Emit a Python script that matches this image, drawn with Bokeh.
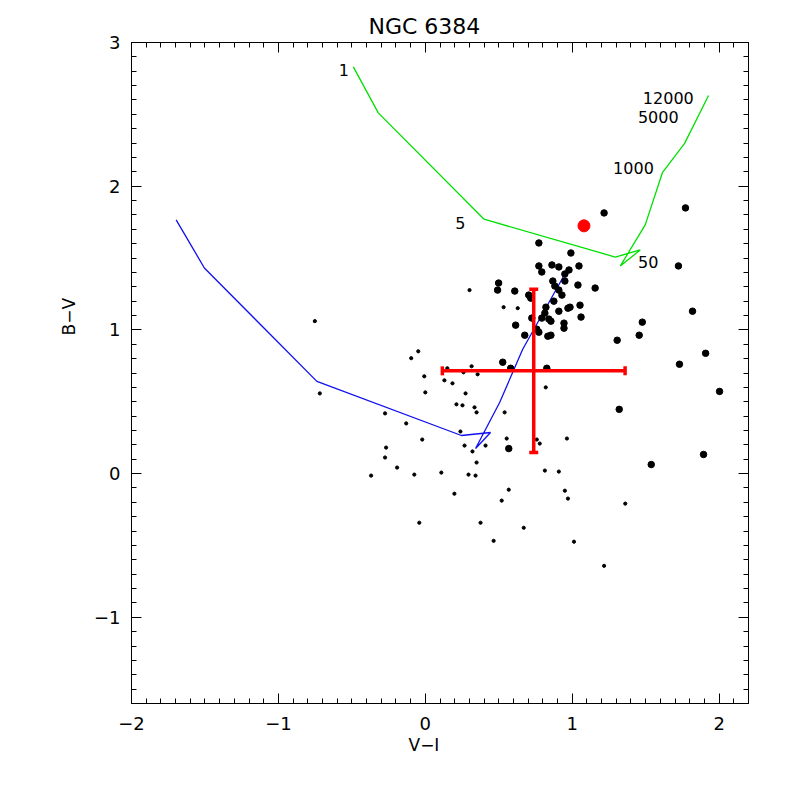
import numpy as np
from bokeh.plotting import figure
from bokeh.models import Range1d, LinearAxis, FixedTicker, CustomJSTickFormatter, Title
from bokeh.core.properties import value
from bokeh.embed import file_html
from bokeh.resources import INLINE

# ---- data ----
big_vi = [1.217, 1.771, 0.773, 0.991, 0.773, 0.862, 0.909, 0.793, 0.978, 1.046, 0.950, 1.723,
          0.499, 0.492, 0.609, 0.868, 0.882, 0.950, 1.039, 1.156, 0.909, 0.704, 0.718, 0.930,
          0.875, 0.821, 1.053, 0.971, 0.985, 0.909, 0.725, 0.814, 0.793, 1.060, 0.841, 0.855,
          0.615, 0.944, 0.944, 0.759, 0.677, 0.773, 0.834, 0.855, 1.477, 1.456, 1.306, 1.819,
          1.908, 0.527, 0.581, 0.827, 1.730, 2.003, 1.320, 0.568, 1.894, 1.538]
big_bv = [1.814, 1.849, 1.605, 1.535, 1.445, 1.452, 1.438, 1.403, 1.417, 1.445, 1.389, 1.445,
          1.326, 1.277, 1.270, 1.340, 1.305, 1.340, 1.312, 1.291, 1.277, 1.242, 1.221, 1.242,
          1.200, 1.158, 1.172, 1.151, 1.158, 1.130, 1.082, 1.117, 1.082, 1.089, 1.075, 1.061,
          1.033, 1.047, 1.012, 1.005, 0.963, 0.984, 0.956, 0.963, 1.054, 0.963, 0.928, 1.130,
          0.837, 0.775, 0.733, 0.733, 0.761, 0.572, 0.447, 0.174, 0.133, 0.063]

small_vi = [0.533, 0.629, 0.820, 0.540, 0.554, 0.410, 0.759, 0.779, 0.964, 0.814, 0.909, 0.568,
            0.950, -0.048, -0.096, 0.150, 0.315, 0.260, 0.356, -0.007, 0.130, 0.185, -0.718, 0.0,
            0.274, 0.212, 0.253, 0.335, 0.349, -0.274, -0.130, 0.239, -0.021, 0.267, -0.267, 0.321,
            -0.274, 0.349, -0.192, -0.369, -0.075, 0.109, 0.294, 0.342, -0.752, 0.301, 0.198, 0.520,
            0.971, -0.041, 0.376, 0.670, 0.465, 1.012, 1.217, 1.361]
small_bv = [1.158, 1.151, 0.600, 0.426, 0.244, 0.195, 0.237, 0.209, 0.244, 0.021, 0.014, -0.112,
            -0.119, 0.851, 0.803, 0.733, 0.747, 0.705, 0.691, 0.677, 0.649, 0.628, 0.558, 0.565,
            0.558, 0.482, 0.475, 0.461, 0.426, 0.419, 0.349, 0.293, 0.237, 0.195, 0.181, 0.154,
            0.112, 0.077, 0.042, -0.014, -0.007, 0.007, -0.007, -0.014, 1.061, 1.277, -0.140, -0.188,
            -0.174, -0.342, -0.342, -0.377, -0.468, -0.474, -0.642, -0.209]

# cluster age track (green)
green_vi = [-0.49, -0.32, 0.40, 1.293, 1.463, 1.327, 1.497, 1.614, 1.764, 1.928]
green_bv = [2.83, 2.51, 1.77, 1.507, 1.556, 1.444, 1.731, 2.094, 2.296, 2.631]
age_labels = ["1", "5", "50", "1000", "5000", "12000"]
age_label_vi = [-0.554, 0.239, 1.517, 1.417, 1.586, 1.654]
age_label_bv = [2.812, 1.745, 1.473, 2.128, 2.484, 2.617]

# second track (blue)
blue_vi = [-1.696, -1.504, -0.738, 0.246, 0.444, 0.342, 0.506, 0.663, 0.950]
blue_bv = [1.766, 1.431, 0.642, 0.265, 0.286, 0.175, 0.495, 0.865, 1.389]

# object + error cross
obj_vi = [1.080]
obj_bv = [1.724]
err_vi = 0.738
err_bv = 0.715
err_dvi = 0.622
err_dbv = 0.568

FONT = "DejaVu Sans"

p = figure(width=778, height=778, output_backend="svg", toolbar_location=None,
           x_range=Range1d(-2.0, 2.2), y_range=Range1d(-1.6, 3.0),
           min_border_left=131, min_border_right=30, min_border_top=42, min_border_bottom=75)
p.grid.visible = False
p.outline_line_color = "black"
p.outline_line_width = 1

xt = FixedTicker(ticks=[-2, -1, 0, 1, 2], minor_ticks=list(np.round(np.arange(-2.0, 2.21, 0.1), 2)))
yt = FixedTicker(ticks=[-1, 0, 1, 2, 3], minor_ticks=list(np.round(np.arange(-1.6, 3.01, 0.1), 2)))

def style(ax):
    ax.axis_line_color = "black"
    ax.major_tick_in = 10
    ax.major_tick_out = 0
    ax.minor_tick_in = 5
    ax.minor_tick_out = 0
    ax.major_tick_line_color = "black"
    ax.minor_tick_line_color = "black"
    ax.major_label_text_font = FONT
    ax.major_label_text_font_size = "18px"
    ax.major_label_text_color = "black"

xa = p.xaxis[0]
xa.ticker = xt
xa.major_label_overrides = {-2: "\u22122", -1: "\u22121", 0: "0", 1: "1", 2: "2"}
xa.major_label_standoff = 13
style(xa)

ya = p.yaxis[0]
ya.ticker = yt
ya.major_label_overrides = {-1: "\u22121", 0: "0", 1: "1", 2: "2", 3: "3"}
ya.major_label_standoff = 11
ya.major_label_orientation = "horizontal"
style(ya)

blank = CustomJSTickFormatter(code="return ''")
top = LinearAxis(ticker=xt, formatter=blank)
style(top)
top.major_label_text_font_size = "1px"
top.major_label_standoff = 8
p.add_layout(top, "above")
right = LinearAxis(ticker=yt, formatter=blank)
style(right)
right.major_label_text_font_size = "1px"
right.major_label_standoff = 0
p.add_layout(right, "right")

def mk_title(text, size, standoff, offset, valign="middle"):
    return Title(text=text, align="left", offset=offset, standoff=standoff,
                 text_font=FONT, text_font_size=size, text_font_style="normal",
                 text_color="black", vertical_align=valign)

p.add_layout(mk_title("NGC 6384", "22px", 4, 237, "top"), "above")
p.add_layout(mk_title("V\u2212I", "17px", 2, 277), "below")
p.add_layout(mk_title("B\u2212V", "17px", 21, 368), "left")

# tracks
p.line(green_vi, green_bv, line_color="#00e000", line_width=1.3)
p.line(blue_vi, blue_bv, line_color="#1010ee", line_width=1.3)
p.text(age_label_vi, age_label_bv, text=age_labels, text_font=value(FONT), text_font_size="16px",
       text_align="center", text_baseline="middle", text_color="black")

# points
p.scatter(small_vi, small_bv, size=3.2, color="black")
p.scatter(big_vi, big_bv, size=6.5, color="black")

# error cross
p.segment([err_vi - err_dvi, err_vi], [err_bv, err_bv - err_dbv],
          [err_vi + err_dvi, err_vi], [err_bv, err_bv + err_dbv],
          line_color="red", line_width=3.5)
p.scatter([err_vi, err_vi], [err_bv - err_dbv, err_bv + err_dbv], marker="dash",
          size=9, line_color="red", line_width=3.5)
p.scatter([err_vi - err_dvi, err_vi + err_dvi], [err_bv, err_bv], marker="dash",
          size=9, angle=np.pi / 2, line_color="red", line_width=3.5)

p.scatter(obj_vi, obj_bv, size=12, color="red")

open("out.html", "w").write(file_html(p, INLINE))
